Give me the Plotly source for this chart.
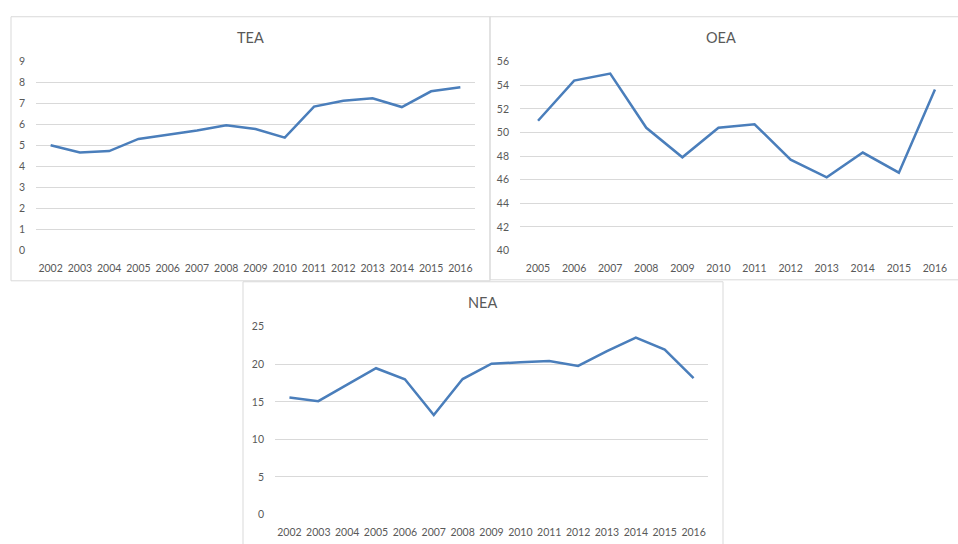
import plotly.graph_objects as go

W, H = 958, 544

tea_years = ["2002", "2003", "2004", "2005", "2006", "2007", "2008", "2009",
             "2010", "2011", "2012", "2013", "2014", "2015", "2016"]
tea_values = [5.02, 4.67, 4.74, 5.32, 5.52, 5.72, 5.97, 5.79, 5.38, 6.86,
              7.14, 7.26, 6.84, 7.59, 7.78]

oea_years = ["2005", "2006", "2007", "2008", "2009", "2010", "2011", "2012",
             "2013", "2014", "2015", "2016"]
oea_values = [51.0, 54.4, 55.0, 50.4, 47.9, 50.4, 50.7, 47.7, 46.2, 48.3,
              46.6, 53.65]

nea_years = ["2002", "2003", "2004", "2005", "2006", "2007", "2008", "2009",
             "2010", "2011", "2012", "2013", "2014", "2015", "2016"]
nea_values = [15.57, 15.09, 17.3, 19.48, 18.0, 13.26, 18.04, 20.09, 20.26,
              20.43, 19.78, 21.74, 23.57, 21.96, 18.17]

titles = ["TEA", "OEA", "NEA"]

LINE = "#4a7ebb"
GRID = "#d9d9d9"
TXT = "#595959"
FONT = "Lato, Open Sans, sans-serif"


def px_x(x):
    return x / W


def px_y(y):
    return 1 - y / H


fig = go.Figure()

panels = [
    # (years, values, plot x0,x1, y_top,y_bottom (px), yrange, dtick, box, title_x)
    (tea_years, tea_values, 36, 475, 57, 250, [0, 9], 1, (11, 490, 11, 281), 250),
    (oea_years, oea_values, 520, 953, 57, 250, [40, 56], 2, (490, 980, 11, 280), 721),
    (nea_years, nea_values, 275, 708, 328, 520, [0, 25], 5, (243, 723, 282, 570), 483),
]

shapes = []
annotations = []
for i, (yrs, vals, x0, x1, yt, yb, yr, dt, box, tx) in enumerate(panels):
    sfx = "" if i == 0 else str(i + 1)
    fig.add_trace(go.Scatter(x=yrs, y=vals, mode="lines",
                             line=dict(color=LINE, width=2.5),
                             xaxis="x" + sfx, yaxis="y" + sfx,
                             showlegend=False, hoverinfo="x+y"))
    fig.layout["xaxis" + sfx] = dict(
        domain=[px_x(x0), px_x(x1)], anchor="y" + sfx, type="category",
        range=[-0.5, len(yrs) - 0.5], showgrid=False, zeroline=False,
        showline=False, ticks="", ticklabelstandoff=10,
        tickfont=dict(family=FONT, size=10.5, color=TXT), fixedrange=True)
    fig.layout["yaxis" + sfx] = dict(
        domain=[px_y(yb), px_y(yt)], anchor="x" + sfx, range=yr, dtick=dt,
        tick0=yr[0], showgrid=True, gridcolor=GRID, gridwidth=1,
        zeroline=False, showline=False, ticks="", ticklabelstandoff=10,
        tickfont=dict(family=FONT, size=10.5, color=TXT), fixedrange=True)
    bx0, bx1, by0, by1 = box
    shapes.append(dict(type="rect", xref="paper", yref="paper",
                       x0=px_x(bx0), x1=px_x(bx1), y0=px_y(by1), y1=px_y(by0),
                       line=dict(color=GRID, width=1), fillcolor="rgba(0,0,0,0)",
                       layer="below"))
    annotations.append(dict(text=titles[i], xref="paper", yref="paper",
                            x=px_x(tx), y=px_y(by0 + 21), showarrow=False,
                            xanchor="center", yanchor="middle",
                            font=dict(family=FONT, size=14.5, color=TXT)))

fig.update_layout(width=W, height=H, margin=dict(l=0, r=0, t=0, b=0),
                  paper_bgcolor="white", plot_bgcolor="white",
                  shapes=shapes, annotations=annotations)

fig.write_html("out.html",
               config={"displayModeBar": False},
               post_script="document.body.style.margin='0';"
                           "document.body.style.overflow='hidden';")
